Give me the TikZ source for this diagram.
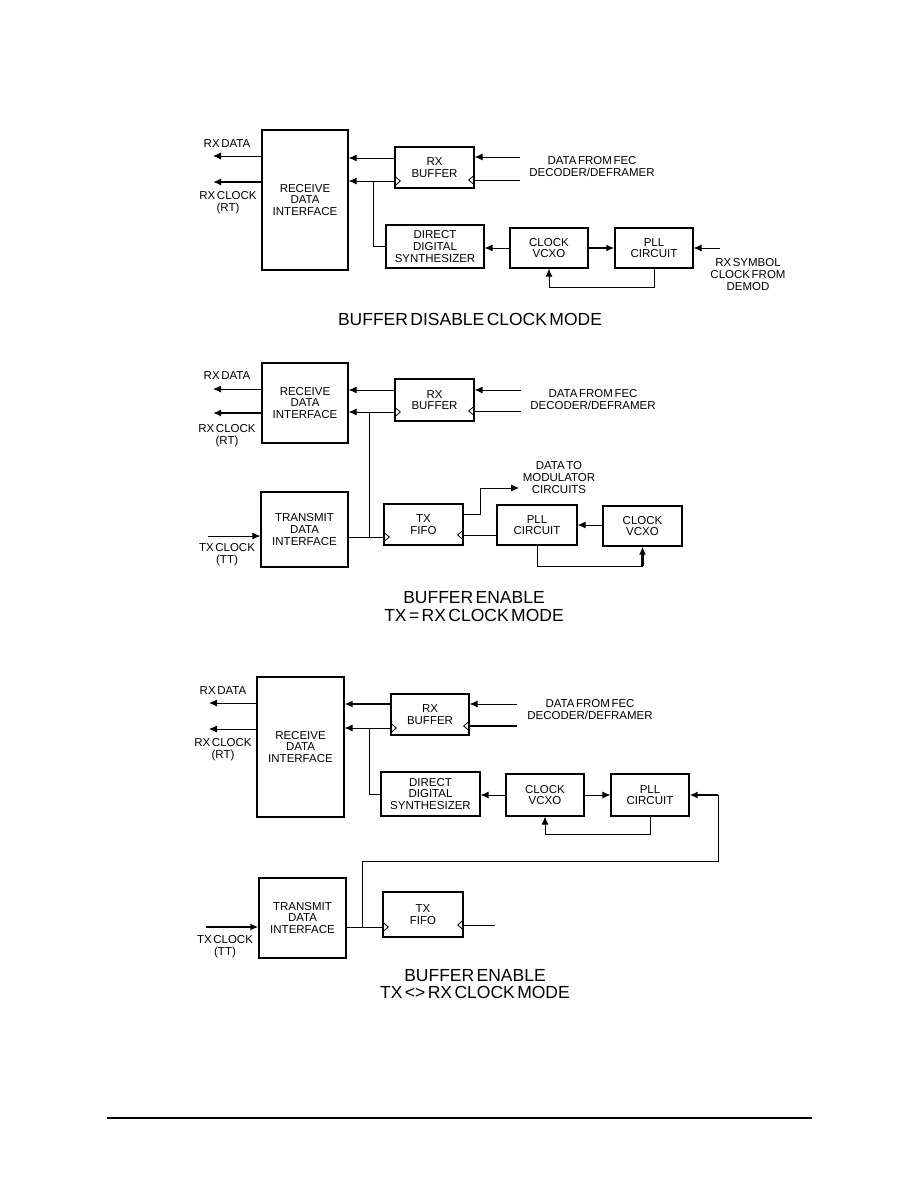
\documentclass[tikz,border=0pt]{standalone}
\usepackage{fontspec}
\setmainfont[WordSpace=0.5]{Liberation Sans}
\usetikzlibrary{arrows.meta}

% clock input marks on the box edges
\tikzset{
  clkR/.pic={\draw[line width=0.8pt] (0,-5) -- (6,0) -- (0,5);},
  clkL/.pic={\draw[line width=0.8pt] (0,-5) -- (-6,0) -- (0,5);},
}

\begin{document}
\begin{tikzpicture}[x=1pt, y=-1pt, >={Latex[length=8pt,width=7pt]},
  blk/.style={draw, line width=1.2pt, align=center, inner sep=0pt, font=\fontsize{11.5}{11.7}\selectfont},
  lbl/.style={align=center, inner sep=0pt, font=\fontsize{11.5}{12}\selectfont},
  ttl/.style={align=center, inner sep=0pt, font=\fontsize{17.5}{17.5}\selectfont},
  wire/.style={line width=0.9pt},
  bus/.style={line width=2.4pt}]
    \fill[white] (0,0) rectangle (918,1188);
    \useasboundingbox (0,0) rectangle (918,1188);

    % 1. Buffer disable clock mode
    \node[blk, minimum width=86, minimum height=140] (rdiA) at (305,200) {RECEIVE\\DATA\\INTERFACE};
    \node[blk, minimum width=79, minimum height=41] (bufA) at (434.5,167.5) {RX\\BUFFER};
    \node[blk, minimum width=98, minimum height=43] (ddsA) at (435,246.5) {DIRECT\\DIGITAL\\SYNTHESIZER};
    \node[blk, minimum width=78, minimum height=40] (vcxoA) at (549,248) {CLOCK\\VCXO};
    \node[blk, minimum width=78, minimum height=40] (pllA) at (654,248) {PLL\\CIRCUIT};
    \coordinate (rxdA) at (213,156);
    \coordinate (rxcA) at (213,182);
    \coordinate (fecdA) at (520,157);
    \coordinate (feccA) at (520,180);
    \coordinate (symA) at (720,248);

    \draw[wire,->] (rdiA.west |- rxdA) -- (rxdA);
    \draw[bus,->] (rdiA.west |- rxcA) -- (rxcA);
    \node[lbl] (rxdtA) at (227,144) {RX DATA};
    \node[lbl] (rxctA) at (228,203) {RX CLOCK\\(RT)};
    \draw[wire,->] (bufA.west |- 0,158) -- (rdiA.east |- 0,158);
    \draw[wire,->] (bufA.west |- 0,181) -- (rdiA.east |- 0,181);
    \path (bufA.west |- 0,181) pic {clkR};
    \draw[wire] (373,181) |- (ddsA.west);
    \draw[wire,->] (fecdA) -- (bufA.east |- fecdA);
    \draw[wire] (feccA) -- (bufA.east |- feccA);
    \path (bufA.east |- feccA) pic {clkL};
    \node[lbl] (fecA) at (592,167) {DATA FROM FEC\\DECODER/DEFRAMER};
    \draw[wire,->] (vcxoA.west) -- (ddsA.east |- vcxoA.west);
    \draw[bus,->] (vcxoA.east) -- (pllA.west);
    \draw[wire,->] (pllA.south) -- ++(0,19) -| (vcxoA.south);
    \draw[wire,->] (symA) -- (pllA.east);
    \node[lbl] (symtA) at (748,275) {RX SYMBOL\\CLOCK FROM\\DEMOD};
    \node[ttl] (ttlA) at (470,319) {BUFFER DISABLE CLOCK MODE};

    % 2. Buffer enable, TX = RX clock
    \node[blk, minimum width=86, minimum height=80] (rdiB) at (305,403) {RECEIVE\\DATA\\INTERFACE};
    \node[blk, minimum width=79, minimum height=42] (bufB) at (434.5,400) {RX\\BUFFER};
    \node[blk, minimum width=87, minimum height=75] (tdiB) at (304.5,529.5) {TRANSMIT\\DATA\\INTERFACE};
    \node[blk, minimum width=79, minimum height=41] (fifoB) at (423.5,524.5) {TX\\FIFO};
    \node[blk, minimum width=80, minimum height=40] (pllB) at (537,525) {PLL\\CIRCUIT};
    \node[blk, minimum width=79, minimum height=40] (vcxoB) at (642.5,526) {CLOCK\\VCXO};
    \coordinate (rxdB) at (213,389);
    \coordinate (rxcB) at (213,413);
    \coordinate (fecdB) at (521,390);
    \coordinate (feccB) at (521,411);
    \coordinate (txcB) at (208,536);
    \coordinate (modB) at (519,488);

    \draw[wire,->] (rdiB.west |- rxdB) -- (rxdB);
    \draw[bus,->] (rdiB.west |- rxcB) -- (rxcB);
    \node[lbl] (rxdtB) at (227,376) {RX DATA};
    \node[lbl] (rxctB) at (227,435.5) {RX CLOCK\\(RT)};
    \draw[wire,->] (bufB.west |- 0,390) -- (rdiB.east |- 0,390);
    \draw[wire,->] (bufB.west |- 0,412) -- (rdiB.east |- 0,412);
    \path (bufB.west |- 0,412) pic {clkR};
    \draw[wire,->] (fecdB) -- (bufB.east |- fecdB);
    \draw[wire] (feccB) -- (bufB.east |- feccB);
    \path (bufB.east |- feccB) pic {clkL};
    \node[lbl] (fecB) at (593,400) {DATA FROM FEC\\DECODER/DEFRAMER};
    \draw[wire,->] (txcB) -- (tdiB.west |- txcB);
    \node[lbl] (txctB) at (227,554.5) {TX CLOCK\\(TT)};
    \draw[wire] (tdiB.east |- 0,537) -- (fifoB.west |- 0,537);
    \path (fifoB.west |- 0,537) pic {clkR};
    \draw[wire] (369,412) -- (369,537);
    \draw[wire,->] (fifoB.east |- 0,514) -| (480,488) -- (modB);
    \node[lbl] (modtB) at (559,478) {DATA TO\\MODULATOR\\CIRCUITS};
    \draw[wire,->] (vcxoB.west |- 0,525) -- (pllB.east |- 0,525);
    \draw[wire] (pllB.west |- 0,535) -- (fifoB.east |- 0,535);
    \path (fifoB.east |- 0,535) pic {clkL};
    \draw[wire] (pllB.south) |- (vcxoB.south |- 0,566);
    \draw[bus,->] (vcxoB.south |- 0,566) -- (vcxoB.south);
    \node[ttl] (ttlB) at (474,606.5) {BUFFER ENABLE\\TX = RX CLOCK MODE};

    % 3. Buffer enable, TX <> RX clock
    \node[blk, minimum width=87, minimum height=140] (rdiC) at (300.5,747) {RECEIVE\\DATA\\INTERFACE};
    \node[blk, minimum width=78, minimum height=41] (bufC) at (430,714.5) {RX\\BUFFER};
    \node[blk, minimum width=99, minimum height=44] (ddsC) at (430.5,794) {DIRECT\\DIGITAL\\SYNTHESIZER};
    \node[blk, minimum width=78, minimum height=42] (vcxoC) at (545,795) {CLOCK\\VCXO};
    \node[blk, minimum width=78, minimum height=42] (pllC) at (650,795) {PLL\\CIRCUIT};
    \node[blk, minimum width=87, minimum height=80] (tdiC) at (302.5,918) {TRANSMIT\\DATA\\INTERFACE};
    \node[blk, minimum width=80, minimum height=45] (fifoC) at (423,914.5) {TX\\FIFO};
    \coordinate (rxdC) at (209,703);
    \coordinate (rxcC) at (209,729);
    \coordinate (fecdC) at (517,704);
    \coordinate (feccC) at (517,726);
    \coordinate (symC) at (718,795);
    \coordinate (txcC) at (206,927);
    \coordinate (outC) at (495,925);

    \draw[wire,->] (rdiC.west |- rxdC) -- (rxdC);
    \draw[wire,->] (rdiC.west |- rxcC) -- (rxcC);
    \node[lbl] (rxdtC) at (223,691) {RX DATA};
    \node[lbl] (rxctC) at (223,750) {RX CLOCK\\(RT)};
    \draw[bus,->] (bufC.west |- 0,704) -- (rdiC.east |- 0,704);
    \draw[wire,->] (bufC.west |- 0,728) -- (rdiC.east |- 0,728);
    \path (bufC.west |- 0,728) pic {clkR};
    \draw[wire] (369,728) |- (ddsC.west);
    \draw[wire,->] (fecdC) -- (bufC.east |- fecdC);
    \draw[bus] (feccC) -- (bufC.east |- feccC);
    \path (bufC.east |- feccC) pic {clkL};
    \node[lbl] (fecC) at (590,710) {DATA FROM FEC\\DECODER/DEFRAMER};
    \draw[wire,->] (vcxoC.west) -- (ddsC.east |- vcxoC.west);
    \draw[wire,->] (vcxoC.east) -- (pllC.west);
    \draw[wire,->] (pllC.south) -- ++(0,18) -| (vcxoC.south);
    \draw[bus,->] (symC) -- (pllC.east);
    \draw[wire] (symC) |- (362,861) -- (362,927);
    \draw[bus,->] (txcC) -- (tdiC.west |- txcC);
    \node[lbl] (txctC) at (225,947) {TX CLOCK\\(TT)};
    \draw[wire] (tdiC.east |- txcC) -- (fifoC.west |- txcC);
    \path (fifoC.west |- txcC) pic {clkR};
    \draw[wire] (outC) -- (fifoC.east |- outC);
    \path (fifoC.east |- outC) pic {clkL};
    \node[ttl] (ttlC) at (475,984) {BUFFER ENABLE\\TX <> RX CLOCK MODE};

    % 4. Rule at the foot of the page
    \draw[line width=1.3pt] (107,1118) -- (812,1118);
\end{tikzpicture}
\end{document}
